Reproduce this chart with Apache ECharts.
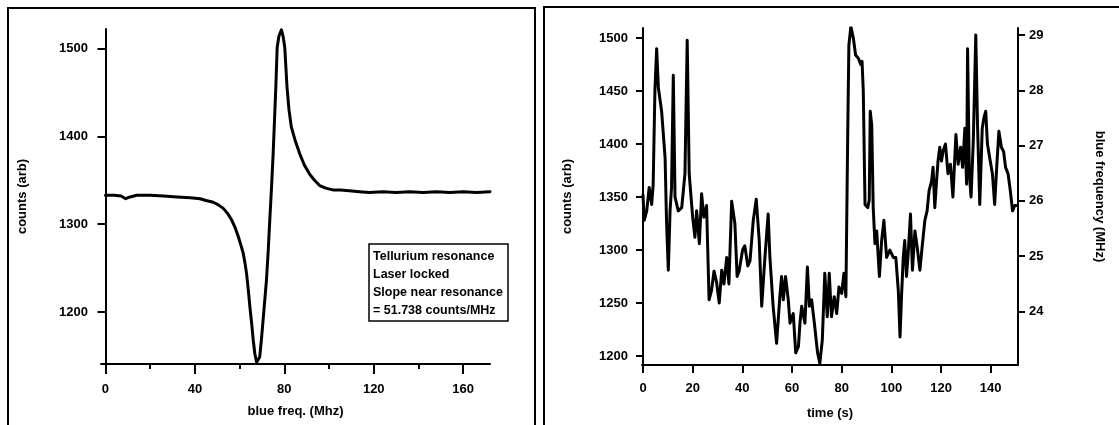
<!DOCTYPE html>
<html>
<head>
<meta charset="utf-8">
<script src="https://cdn.jsdelivr.net/npm/echarts@6/dist/echarts.min.js"></script>
<style>
html,body{margin:0;padding:0;background:#fff;}
#c{width:1119px;height:425px;}
</style>
</head>
<body>
<div id="c"></div>
<script>
// ---- Left panel: tellurium resonance scan ----
const leftFreq = [0,4,7,9,11,14,20,26,32,38,42.3,45,48.2,50.5,52.7,54.7,56.4,58,59.4,60.6,61.6,62.4,63.1,63.9,64.6,65.4,66.1,66.8,67.6,68.3,69.0,69.8,70.5,71.2,72.0,72.8,73.5,74.3,75.0,75.6,76.2,76.8,77.6,78.7,79.5,80.2,81.2,82.1,83.1,85,86.9,89,91.3,93.5,95.8,98.5,101.7,105,109,113.6,118,124,130,136,142,148,154,160,166,172];
const leftCounts = [1333,1333,1332,1329,1331,1333,1333,1332,1331,1330,1329,1327,1325,1322,1318,1312,1305,1296,1286,1276,1267,1256,1244,1225,1206,1187,1168,1153,1143,1144,1149,1170,1191,1212,1236,1270,1305,1343,1380,1418,1456,1501,1514,1521,1513,1501,1456,1430,1411,1394,1380,1367,1357,1350,1344,1341,1339,1339,1338,1337,1336,1337,1336,1337,1336,1337,1336,1337,1336,1337];
const leftXTicks = [0,40,80,120,160];
const leftXMinorTicks = [20,60,100,140];
const leftYTicks = [1200,1300,1400,1500];
const noteLines = ['Tellurium resonance','Laser locked','Slope near resonance','= 51.738 counts/MHz'];

// ---- Right panel: locked laser time trace ----
const rightTime = [0,0.5,1.5,2.5,3.5,4.1,4.8,5.5,6.2,7.5,8.9,9.5,10.2,10.9,11.5,12.2,12.9,14.2,15.6,16.9,17.8,18.6,20.0,20.9,21.6,22.7,23.6,24.5,25.6,26.6,27.6,28.6,29.6,30.7,31.7,32.6,33.7,34.6,35.7,37.0,37.9,38.7,40.1,41.0,42.2,43.1,44.4,45.6,46.8,47.8,49.1,50.4,51.1,52.4,53.8,55.1,55.8,56.5,57.4,58.5,59.2,60.5,61.5,62.6,63.2,63.9,65.2,66.2,67.0,67.9,69.0,70.3,71.2,72.2,73.2,74.2,75.0,75.9,77.0,78.0,78.9,80.0,80.9,81.7,82.4,82.9,83.7,84.7,85.6,86.7,87.7,88.2,88.7,89.4,90.5,91.1,91.5,92.1,92.7,93.4,94.1,95.2,96.1,97.0,98.1,99.4,100.8,101.8,102.8,103.5,104.1,104.8,105.4,106.1,106.8,107.7,108.5,109.5,110.4,111.5,112.4,113.5,114.4,115.2,116.2,116.8,117.5,118.2,118.8,119.5,120.2,120.8,121.8,122.8,123.8,124.8,126.0,126.9,127.9,128.7,129.6,130.3,130.7,131.4,132.1,133.0,134.0,134.7,135.6,136.6,137.3,138.0,138.7,139.6,140.7,141.6,142.5,143.3,144.3,145.2,146.0,147.0,147.9,148.8,149.7,150.3];
const rightCounts = [1352,1328,1337,1359,1343,1362,1450,1490,1453,1431,1387,1325,1281,1337,1359,1465,1350,1337,1340,1372,1498,1372,1331,1312,1337,1306,1353,1331,1342,1253,1262,1280,1270,1250,1281,1268,1293,1268,1346,1325,1275,1280,1300,1304,1285,1290,1328,1348,1309,1247,1293,1334,1293,1247,1212,1256,1275,1253,1275,1253,1231,1240,1203,1209,1231,1247,1231,1284,1247,1253,1231,1203,1193,1215,1278,1237,1278,1237,1256,1240,1265,1259,1278,1256,1403,1493,1511,1500,1484,1481,1475,1478,1450,1343,1340,1347,1431,1418,1340,1306,1318,1275,1309,1328,1293,1300,1293,1293,1262,1218,1256,1293,1309,1275,1297,1334,1281,1318,1303,1281,1303,1328,1337,1356,1365,1378,1340,1365,1384,1397,1384,1393,1400,1372,1381,1350,1409,1381,1397,1378,1415,1362,1490,1372,1350,1403,1503,1418,1343,1415,1425,1431,1400,1387,1372,1343,1381,1412,1397,1393,1378,1372,1356,1337,1342,1342];
const rightXTicks = [0,20,40,60,80,100,120,140];
const rightYTicks = [1200,1250,1300,1350,1400,1450,1500];
const rightFreqTicks = [24,25,26,27,28,29];

const pair = (xs, ys) => xs.map((x, i) => [x, ys[i]]);
const plain = v => String(v);

const FONT = 'Liberation Sans, Arial, Helvetica, sans-serif';
const lblStyle = {color:'#000', fontFamily:FONT, fontWeight:'bold', fontSize:13};
const lineStyle = {color:'#000', width:2};
const tickStyle = {color:'#000', width:2};

const chart = echarts.init(document.getElementById('c'), null, {renderer:'canvas'});
chart.setOption({
  animation:false,
  backgroundColor:'#fff',
  title:[{
    text: noteLines.join('\n'),
    left:369, top:244,
    padding:[4,5,1,4],
    borderColor:'#000', borderWidth:1.5,
    backgroundColor:'#fff',
    textStyle:{color:'#000', fontFamily:FONT, fontWeight:'bold', fontSize:12.5, lineHeight:18}
  }],
  graphic:[
    {type:'rect', shape:{x:8,y:8,width:527,height:420}, style:{fill:'none', stroke:'#000', lineWidth:2}, silent:true, z:-1},
    {type:'rect', shape:{x:544,y:7,width:590,height:421}, style:{fill:'none', stroke:'#000', lineWidth:2}, silent:true, z:-1}
  ],
  grid:[
    {left:101, top:29, width:389, height:335},
    {left:642, top:28, width:376, height:339}
  ],
  xAxis:[
    {gridIndex:0, type:'value', min:-2, max:172,
     name:'blue freq. (Mhz)', nameLocation:'middle', nameGap:41, nameTextStyle:lblStyle,
     axisLine:{lineStyle:lineStyle}, splitLine:{show:false},
     axisTick:{show:true, length:10, lineStyle:tickStyle, customValues:leftXTicks},
     axisLabel:{...lblStyle, margin:19, customValues:leftXTicks, formatter:plain}},
    {gridIndex:0, type:'value', min:-2, max:172, position:'bottom',
     axisLine:{show:false}, splitLine:{show:false},
     axisTick:{show:true, length:5, lineStyle:tickStyle, customValues:leftXMinorTicks},
     axisLabel:{show:false}},
    {gridIndex:1, type:'value', min:-0.4, max:151,
     name:'time (s)', nameLocation:'middle', nameGap:42, nameTextStyle:lblStyle,
     axisLine:{lineStyle:lineStyle}, splitLine:{show:false},
     axisTick:{show:true, length:8, lineStyle:tickStyle, customValues:rightXTicks},
     axisLabel:{...lblStyle, margin:17, customValues:rightXTicks, formatter:plain}}
  ],
  yAxis:[
    {gridIndex:0, type:'value', min:1141, max:1522,
     name:'counts (arb)', nameLocation:'middle', nameGap:72, nameRotate:90, nameTextStyle:lblStyle,
     axisLine:{show:true, lineStyle:lineStyle}, splitLine:{show:false},
     axisTick:{show:true, length:8, lineStyle:tickStyle, customValues:leftYTicks},
     axisLabel:{...lblStyle, margin:13, customValues:leftYTicks, formatter:plain}},
    {gridIndex:1, type:'value', min:1191.5, max:1509.5,
     name:'counts (arb)', nameLocation:'middle', nameGap:68, nameRotate:90, nameTextStyle:lblStyle,
     axisLine:{show:true, lineStyle:lineStyle}, splitLine:{show:false},
     axisTick:{show:true, length:7, lineStyle:tickStyle, customValues:rightYTicks},
     axisLabel:{...lblStyle, margin:14, customValues:rightYTicks, formatter:plain}},
    {gridIndex:1, type:'value', position:'right', min:23.03, max:29.13,
     name:'blue frequency (MHz)', nameLocation:'middle', nameGap:75, nameRotate:-90, nameTextStyle:lblStyle,
     axisLine:{show:true, lineStyle:lineStyle}, splitLine:{show:false},
     axisTick:{show:true, length:7, lineStyle:tickStyle, customValues:rightFreqTicks},
     axisLabel:{...lblStyle, margin:11, customValues:rightFreqTicks, formatter:plain}}
  ],
  series:[
    {type:'line', xAxisIndex:0, yAxisIndex:0, data:pair(leftFreq,leftCounts),
     showSymbol:false, smooth:false, lineStyle:{color:'#000', width:3, join:'round', cap:'round'}},
    {type:'line', xAxisIndex:2, yAxisIndex:1, data:pair(rightTime,rightCounts),
     showSymbol:false, lineStyle:{color:'#000', width:3, join:'round', cap:'round'}}
  ]
});
</script>
</body>
</html>
